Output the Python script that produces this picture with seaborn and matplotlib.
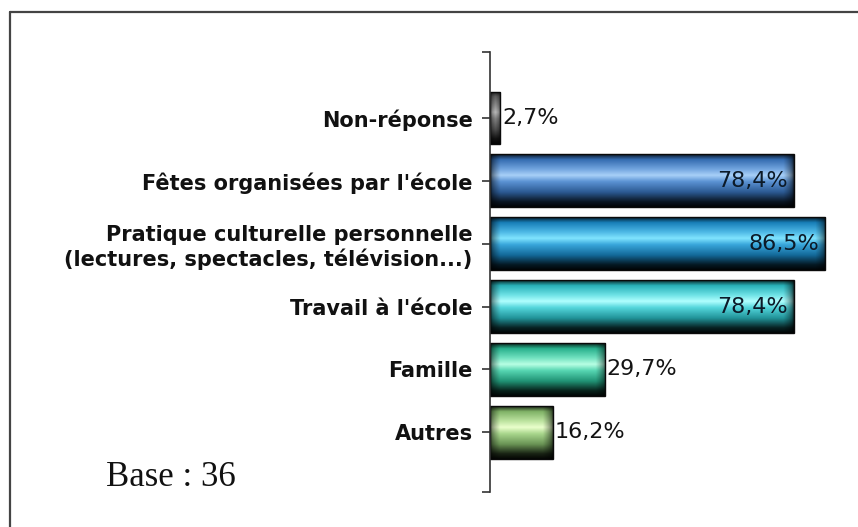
import numpy as np
import pandas as pd
import matplotlib
matplotlib.use("Agg")
import matplotlib.pyplot as plt
import matplotlib.colors as mcolors
from matplotlib.lines import Line2D
import seaborn as sns

categories = [
    "Non-réponse",
    "Fêtes organisées par l'école",
    "Pratique culturelle personnelle\n(lectures, spectacles, télévision...)",
    "Travail à l'école",
    "Famille",
    "Autres",
]
values = [2.7, 78.4, 86.5, 78.4, 29.7, 16.2]
value_labels = ["2,7%", "78,4%", "86,5%", "78,4%", "29,7%", "16,2%"]
base_colors = ["#8a8a8a", "#3a78c4", "#1a8ccc", "#2cc4cc", "#2cc49c", "#8ec672"]
highlight_colors = ["#f0f0f0", "#a8d0f8", "#80e4ff", "#b0ffff", "#b8ffe4", "#eaffcc"]
base_note = "Base : 36"

df = pd.DataFrame({"categorie": categories, "pourcentage": values})

sns.set_theme(style="white")
plt.rcParams["font.family"] = ["DejaVu Sans"]

fig = plt.figure(figsize=(8.58, 5.27), dpi=100)
ax = fig.add_axes([490 / 858, 1 - 492 / 527, 0.43, (492 - 52) / 527])

sns.barplot(data=df, x="pourcentage", y="categorie", orient="h",
            width=0.84, ax=ax, color="white", edgecolor="#0a0a0a",
            linewidth=1.0, zorder=2)

y_top, y_bottom = -1.05, len(categories) - 0.05
ax.set_ylim(y_bottom, y_top)

fig.canvas.draw()
px_per_unit = (825 - 490) / 86.5
ax.set_xlim(0, (858 * 0.43) / px_per_unit)
fig.canvas.draw()
px_per_unit = ax.transData.transform((1, 0))[0] - ax.transData.transform((0, 0))[0]


def cylinder_image(base, high, width_px, ncols=240, nrows=120):
    base = np.array(mcolors.to_rgb(base))
    high = np.array(mcolors.to_rgb(high))
    t = np.linspace(0, 1, nrows)
    # vertical shading: dark rim on top, bright band above centre, black at bottom
    stops_t = [0.0, 0.10, 0.28, 0.40, 0.52, 0.72, 0.90, 1.0]
    stops_mix = [
        base * 0.2,
        base * 0.9,
        base * 0.5 + high * 0.5,
        high,
        base * 0.7 + high * 0.3,
        base * 0.75,
        base * 0.18,
        base * 0.03,
    ]
    col = np.stack([np.interp(t, stops_t, [s[c] for s in stops_mix]) for c in range(3)], axis=1)
    xs = np.linspace(0, width_px, ncols)
    edge = 10.0
    d = np.minimum(xs, width_px - xs)
    hfac = 0.3 + 0.7 * np.clip(d / edge, 0, 1) ** 0.6
    img = col[:, None, :] * hfac[None, :, None]
    return np.clip(img, 0, 1)


for patch, base, high in zip(ax.patches, base_colors, highlight_colors):
    x0, y0 = patch.get_x(), patch.get_y()
    w, h = patch.get_width(), patch.get_height()
    img = cylinder_image(base, high, w * px_per_unit)
    im = ax.imshow(img, extent=(x0, x0 + w, y0 + h, y0), aspect="auto",
                   origin="upper", zorder=1.5, interpolation="bilinear")
    im.set_clip_path(patch)
    patch.set_facecolor("none")

ax.set_xlim(0, (858 * 0.43) / px_per_unit)
ax.set_ylim(y_bottom, y_top)

for i, (v, lab) in enumerate(zip(values, value_labels)):
    if v > 50:
        ax.text(v - 6 / px_per_unit, i, lab, ha="right", va="center",
                fontsize=16, color="#0c1a28", zorder=3)
    else:
        ax.text(v + 1.5 / px_per_unit, i, lab, ha="left", va="center",
                fontsize=16, color="#141414", zorder=3)

ax.set_xlabel("")
ax.set_ylabel("")
ax.set_xticks([])
for s in ["top", "right", "bottom"]:
    ax.spines[s].set_visible(False)
ax.spines["left"].set_color("#333333")
ax.spines["left"].set_linewidth(1.2)
ax.set_yticks([y_top, y_bottom], minor=True)
ax.tick_params(axis="y", which="both", direction="out", length=5.5,
               width=1.2, color="#333333", left=True)
ax.tick_params(axis="y", which="major", pad=7)
for t in ax.get_yticklabels():
    t.set_fontsize(15)
    t.set_fontweight("bold")
    t.set_color("#111111")
    t.set_multialignment("right")
    t.set_linespacing(1.2)

fig.text(106 / 858, 1 - 477 / 527, base_note, family="Liberation Serif",
         fontsize=25, color="#111111", ha="left", va="center")

fig.add_artist(Line2D([9.5 / 858, 9.5 / 858], [0, 1 - 12 / 527],
                      transform=fig.transFigure, color="#444444", lw=1.6))
fig.add_artist(Line2D([9.5 / 858, 1], [1 - 12 / 527, 1 - 12 / 527],
                      transform=fig.transFigure, color="#444444", lw=1.6))

fig.savefig("out.png", dpi=100, facecolor="white")
